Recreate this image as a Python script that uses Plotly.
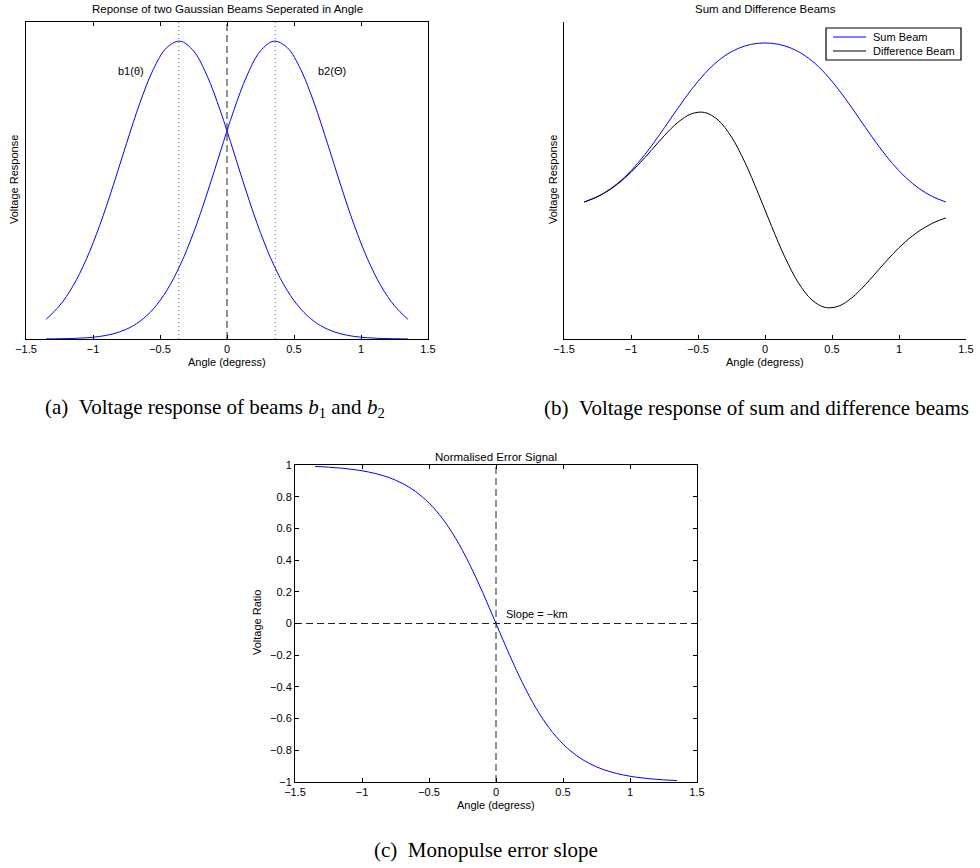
import plotly.graph_objects as go

# Sampled angles (degrees)
angle = [-1.35, -1.25, -1.15, -1.05, -0.95, -0.85, -0.75, -0.65, -0.55, -0.45,
         -0.35, -0.25, -0.15, -0.05, 0.05, 0.15, 0.25, 0.35, 0.45, 0.55,
         0.65, 0.75, 0.85, 0.95, 1.05, 1.15, 1.25, 1.35]

# Beam b1 (squinted to negative angle) and b2 (squinted to positive angle)
beam_b1 = [0.0662, 0.1115, 0.1775, 0.2675, 0.3813, 0.5142, 0.6562, 0.7922, 0.9048, 0.9778,
           0.9997, 0.9670, 0.8850, 0.7663, 0.6278, 0.4865, 0.3567, 0.2475, 0.1624, 0.1009,
           0.0593, 0.0329, 0.0173, 0.0086, 0.0041, 0.0018, 0.0008, 0.0003]
beam_b2 = [0.0003, 0.0008, 0.0018, 0.0041, 0.0086, 0.0173, 0.0329, 0.0593, 0.1009, 0.1624,
           0.2475, 0.3567, 0.4865, 0.6278, 0.7663, 0.8850, 0.9670, 0.9997, 0.9778, 0.9048,
           0.7922, 0.6562, 0.5142, 0.3813, 0.2675, 0.1775, 0.1115, 0.0662]

# Sum and difference beams
sum_beam = [0.0665, 0.1123, 0.1793, 0.2716, 0.3899, 0.5315, 0.6891, 0.8515, 1.0057, 1.1402,
            1.2472, 1.3237, 1.3715, 1.3941, 1.3941, 1.3715, 1.3237, 1.2472, 1.1402, 1.0057,
            0.8515, 0.6891, 0.5315, 0.3899, 0.2716, 0.1793, 0.1123, 0.0665]
diff_beam = [0.0659, 0.1107, 0.1757, 0.2634, 0.3727, 0.4969, 0.6233, 0.7329, 0.8039, 0.8154,
             0.7522, 0.6103, 0.3985, 0.1385, -0.1385, -0.3985, -0.6103, -0.7522, -0.8154, -0.8039,
             -0.7329, -0.6233, -0.4969, -0.3727, -0.2634, -0.1757, -0.1107, -0.0659]

# Normalised error signal (difference / sum)
error_ratio = [0.9909, 0.9864, 0.9798, 0.9701, 0.9557, 0.9348, 0.9044, 0.8608, 0.7994, 0.7149,
               0.6030, 0.4609, 0.2905, 0.0994, -0.0994, -0.2905, -0.4609, -0.6030, -0.7149, -0.7994,
               -0.8608, -0.9044, -0.9348, -0.9557, -0.9701, -0.9798, -0.9864, -0.9909]

# Beam peak positions marked with dotted lines
beam_peaks = [-0.36, 0.36]

series_names = ["Sum Beam", "Difference Beam"]

x_ticks = [-1.5, -1.0, -0.5, 0.0, 0.5, 1.0, 1.5]
x_tick_text = ["\u22121.5", "\u22121", "\u22120.5", "0", "0.5", "1", "1.5"]
y_ticks_c = [-1.0, -0.8, -0.6, -0.4, -0.2, 0.0, 0.2, 0.4, 0.6, 0.8, 1.0]
y_tick_text_c = ["\u22121", "\u22120.8", "\u22120.6", "\u22120.4", "\u22120.2", "0",
                 "0.2", "0.4", "0.6", "0.8", "1"]

W, H = 980, 868
SANS = "Liberation Sans, Arial, sans-serif"
SERIF = "Liberation Serif, Times New Roman, serif"
BLUE = "#0000ff"


def px_x(p):
    return p / W


def px_y(p):
    return 1 - p / H


fig = go.Figure()

line_blue = dict(color=BLUE, width=1, shape="spline")
line_black = dict(color="#000000", width=1, shape="spline")

# (a) two beams
fig.add_trace(go.Scatter(x=angle, y=beam_b1, mode="lines", line=line_blue,
                         xaxis="x", yaxis="y", showlegend=False))
fig.add_trace(go.Scatter(x=angle, y=beam_b2, mode="lines", line=line_blue,
                         xaxis="x", yaxis="y", showlegend=False))
for pk in beam_peaks:
    fig.add_trace(go.Scatter(x=[pk, pk], y=[0, 1.064], mode="lines",
                             line=dict(color="#666666", width=1, dash="1px,3px"),
                             xaxis="x", yaxis="y", showlegend=False))
fig.add_trace(go.Scatter(x=[0, 0], y=[0, 1.064], mode="lines",
                         line=dict(color="#222222", width=1, dash="7px,4px"),
                         xaxis="x", yaxis="y", showlegend=False))

# (b) sum and difference beams
fig.add_trace(go.Scatter(x=angle, y=sum_beam, mode="lines", name=series_names[0],
                         line=line_blue, xaxis="x2", yaxis="y2", showlegend=False))
fig.add_trace(go.Scatter(x=angle, y=diff_beam, mode="lines", name=series_names[1],
                         line=line_black, xaxis="x2", yaxis="y2", showlegend=False))

# (c) normalised error signal
fig.add_trace(go.Scatter(x=angle, y=error_ratio, mode="lines", line=line_blue,
                         xaxis="x3", yaxis="y3", showlegend=False))
fig.add_trace(go.Scatter(x=[-1.5, 1.5], y=[0, 0], mode="lines",
                         line=dict(color="#222222", width=1, dash="7px,4px"),
                         xaxis="x3", yaxis="y3", showlegend=False))
fig.add_trace(go.Scatter(x=[0, 0], y=[-1, 1], mode="lines",
                         line=dict(color="#222222", width=1, dash="7px,4px"),
                         xaxis="x3", yaxis="y3", showlegend=False))

tick_font = dict(family=SANS, size=11, color="#000000")

xbase = dict(range=[-1.5, 1.5], tickvals=x_ticks, ticktext=x_tick_text,
             ticks="inside", ticklen=4, tickcolor="#000000", showline=True,
             linecolor="#000000", linewidth=1, showgrid=False, zeroline=False,
             tickfont=tick_font, automargin=False)
ybare = dict(showline=True, linecolor="#000000", linewidth=1, showgrid=False,
             zeroline=False, showticklabels=False, ticks="", automargin=False)

dom_a = [px_x(26), px_x(428)]
dom_b = [px_x(564), px_x(966)]
dom_c = [px_x(295), px_x(697)]
dom_top = [px_y(339), px_y(22)]
dom_bot = [px_y(782), px_y(465)]

fig.update_layout(
    width=W, height=H,
    margin=dict(l=0, r=0, t=0, b=0, pad=0, autoexpand=False),
    paper_bgcolor="white", plot_bgcolor="white",
    font=dict(family=SANS, size=11, color="#000000"),
    showlegend=False,
    xaxis=dict(xbase, domain=dom_a, anchor="y", mirror="ticks"),
    yaxis=dict(ybare, domain=dom_top, anchor="x", range=[0, 1.064], mirror=True),
    xaxis2=dict(xbase, domain=dom_b, anchor="y2"),
    yaxis2=dict(ybare, domain=dom_top, anchor="x2", range=[-1.079, 1.572]),
    xaxis3=dict(xbase, domain=dom_c, anchor="y3", mirror="ticks"),
    yaxis3=dict(domain=dom_bot, anchor="x3", range=[-1, 1], tickvals=y_ticks_c,
                ticktext=y_tick_text_c, ticks="inside", ticklen=4,
                tickcolor="#000000", showline=True, linecolor="#000000",
                linewidth=1, mirror="ticks", showgrid=False, zeroline=False,
                tickfont=tick_font, automargin=False),
)


def label(text, x, y, size=11, family=SANS, angle=0, xanchor="center"):
    fig.add_annotation(text=text, x=px_x(x), y=px_y(y), xref="paper", yref="paper",
                       showarrow=False, textangle=angle, xanchor=xanchor,
                       yanchor="middle", font=dict(family=family, size=size,
                                                   color="#000000"))


# Legend box for the sum/difference plot
fig.add_shape(type="rect", xref="paper", yref="paper",
              x0=px_x(826), x1=px_x(961), y0=px_y(60), y1=px_y(28),
              line=dict(color="#000000", width=1.2), fillcolor="white", layer="above")
legend_colors = [BLUE, "#000000"]
legend_rows = [37, 51]
for name, col, row in zip(series_names, legend_colors, legend_rows):
    fig.add_shape(type="line", xref="paper", yref="paper",
                  x0=px_x(833), x1=px_x(866), y0=px_y(row), y1=px_y(row),
                  line=dict(color=col, width=1.2), layer="above")
    label(name, 871, row, xanchor="left")

# Titles and axis labels
label("Reponse of two Gaussian Beams Seperated in Angle", 227, 9, size=11.5)
label("Angle (degress)", 227, 362)
label("Voltage Response", 14, 180, angle=-90)

label("Sum and Difference Beams", 765, 9, size=11.5)
label("Angle (degress)", 765, 362)
label("Voltage Response", 553, 180, angle=-90)

label("Normalised Error Signal", 496, 457, size=11.5)
label("Angle (degress)", 496, 805)
label("Voltage Ratio", 257, 623, angle=-90)

# Beam labels inside plot (a)
fig.add_annotation(text="b1(\u03b8)", x=-0.716, y=0.9, xref="x", yref="y",
                   showarrow=False, font=dict(family=SANS, size=11))
fig.add_annotation(text="b2(\u0398)", x=0.784, y=0.9, xref="x", yref="y",
                   showarrow=False, font=dict(family=SANS, size=11))

# Slope note in plot (c)
fig.add_annotation(text="Slope = \u2212km", x=0.06, y=0.063, xref="x3", yref="y3",
                   showarrow=False, xanchor="left", font=dict(family=SANS, size=11))

# Sub-figure captions
label("(a)\u00a0\u00a0Voltage response of beams <i>b</i><sub>1</sub> and <i>b</i><sub>2</sub>",
      215, 408, size=21, family=SERIF)
label("(b)\u00a0\u00a0Voltage response of sum and difference beams",
      756, 408, size=21, family=SERIF)
label("(c)\u00a0\u00a0Monopulse error slope", 486, 850, size=21, family=SERIF)

fig.write_html("out.html")
